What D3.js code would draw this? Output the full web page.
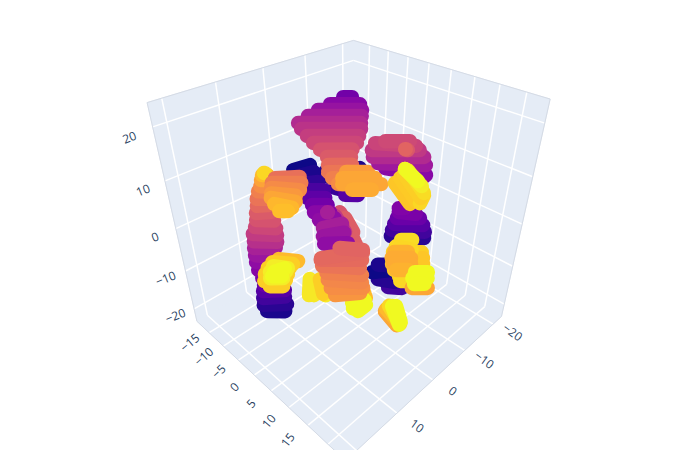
<!DOCTYPE html><html><head><meta charset="utf-8"><script src="https://cdn.jsdelivr.net/npm/d3@7"></script>
<style>html,body{margin:0;background:#fff}</style></head><body><svg id="c" width="700" height="450"></svg><script>
// Axis ticks and ranges
const xTicks=[-20,-10,0,10,20],yTicks=[-15,-10,-5,0,5,10,15,20],zTicks=[-20,-10,0,10,20];
const xLabels=[-20,-10,0,10],yLabels=[-15,-10,-5,0,5,10,15],zLabels=[-20,-10,0,10,20];
const xRange=[-23.1,22.5],yRange=[-19.5,24.1],zRange=[-23.5,24.1];
// Bands of points: start and end of each band in data units, and the colour value
const startX=[-9.0,-8.7,-8.9,-9.7,-17.5,-14.9,-12.5,-10.4,-8.3,-8.1,-8.3,-8.5,-8.8,-9.1,-8.4,-7.7,-7.7,-8.0,-10.0,-8.8,-8.2,-9.0,-19.4,-15.2,-14.5,-14.1,-14.4,-15.3,-16.7,-18.8,-18.6,-9.5,-10.0,-10.7,-11.4,-12.0,-12.2,-13.5,-14.5,-15.1,-15.1,-15.8,-15.3,-15.2,-3.6,-2.7,-2.4,-3.6,-8.5,-7.2,-6.3,-5.5,-5.0,-4.7,-4.7,-4.4,-5.7,-4.8,-4.4,-4.2,-4.8,-6.3,-5.4,-5.0,0.9,0.7,0.2,-0.1,-0.5,16.6,16.7,16.3,
15.9,15.4,15.2,15.2,15.0,14.7,14.4,14.0,13.7,13.0,12.4,12.0,11.5,11.1,10.5,9.9,9.5,9.1,8.8,2.3,2.2,2.7,3.5,5.5,5.5,5.9,5.8,6.2,6.2,6.6,6.6,5.2,6.9,7.6,8.1,6.7,9.0,9.4,9.1,12.7,12.5,11.7,11.8,11.2,11.3,11.2,11.0,11.1,11.0,10.9,8.2,11.1,11.9,12.4,12.9,13.3,13.4,13.4,16.7,17.7,18.7,19.5,20.1,19.9,18.3,19.1,19.6,18.8,19.4];
const startY=[-13.7,-13.1,-10.7,-8.5,-16.9,-18.1,-19.2,-20.0,-20.7,-19.6,-18.1,-16.5,-14.8,-13.1,-12.1,-11.4,-10.2,-8.8,-8.5,-8.4,-7.8,-5.8,2.9,-2.7,-4.0,-5.1,-5.7,-5.7,-4.3,-0.6,-0.7,4.4,4.2,4.1,4.1,4.0,3.8,1.4,1.8,6.6,2.2,2.6,2.2,2.3,9.3,7.4,6.2,6.5,7.8,7.7,7.8,8.3,8.8,9.6,10.9,11.5,8.6,8.8,9.5,10.5,14.0,13.3,13.5,14.3,12.6,12.7,12.9,13.4,14.0,-2.2,-2.9,-3.4,
-3.8,-4.0,-4.6,-5.6,-6.3,-6.8,-7.3,-7.7,-8.2,-8.3,-8.6,-9.0,-9.2,-9.6,-9.8,-9.8,-10.0,-10.1,-9.9,2.4,3.6,5.3,2.5,-5.8,-4.6,-3.7,-2.5,-1.6,-0.4,0.5,1.7,2.3,3.0,3.7,4.5,12.4,12.1,12.7,13.6,5.8,6.6,8.7,7.3,10.3,9.4,8.6,8.1,7.2,6.8,6.8,8.4,-3.6,-3.5,-3.1,-2.6,-2.2,-1.3,-0.1,3.1,2.7,2.7,2.9,3.4,4.5,3.7,3.8,4.4,4.5,4.7];
const startZ=[1.4,0.8,-1.1,-2.2,14.3,13.2,12.3,11.4,10.3,9.4,8.3,7.2,6.2,5.1,3.9,2.8,1.9,1.0,3.1,2.2,1.3,0.5,2.5,4.2,5.1,6.2,7.4,8.6,9.0,7.7,7.9,-5.9,-4.8,-3.7,-2.7,-1.6,-0.9,3.2,4.1,0.2,4.9,5.6,5.9,6.0,-12.4,-11.0,-9.8,-8.5,-4.5,-5.4,-6.2,-7.0,-7.8,-8.6,-9.4,-10.0,-5.4,-6.2,-7.0,-7.8,-10.4,-7.9,-8.7,-9.4,-13.4,-12.9,-12.3,-12.2,-12.1,-12.7,-11.6,-10.5,
-9.3,-8.3,-7.1,-5.8,-4.5,-3.4,-2.2,-1.1,0.1,1.2,2.3,3.4,4.6,5.7,6.9,7.7,8.7,9.5,9.9,4.4,3.7,1.8,4.2,10.8,10.1,9.0,8.3,7.3,6.4,5.5,4.5,5.7,3.6,2.6,1.7,-4.6,-6.2,-6.8,-7.0,-2.5,-2.8,-3.8,-2.2,-4.2,-3.1,-1.9,-0.8,0.2,1.2,1.5,3.0,12.4,11.9,11.3,10.7,10.2,9.5,8.7,2.5,2.2,1.6,0.9,0.1,-0.4,2.3,1.7,1.0,1.9,1.5];
const endX=[-14.5,-10.4,-10.8,-11.5,-18.8,-19.2,-18.9,-18.2,-17.4,-16.8,-15.8,-14.8,-13.5,-12.5,-11.9,-10.9,-10.6,-9.9,-13.1,-13.5,-13.7,-11.8,-20.1,-20.4,-21.0,-21.3,-21.1,-20.7,-20.2,-19.0,-18.7,-13.9,-14.4,-14.6,-14.6,-14.2,-13.1,-13.9,-14.9,-16.3,-15.5,-16.2,-16.3,-16.0,-5.4,-4.8,-5.2,-5.9,-10.0,-8.5,-10.1,-9.7,-9.1,-8.5,-7.7,-6.4,-7.5,-7.3,-6.8,-5.8,-6.9,-8.0,-7.4,-6.4,0.4,0.1,0.1,0.4,0.1,14.3,13.6,13.4,
13.0,13.0,14.0,13.5,13.0,12.9,11.6,11.1,10.7,10.4,10.2,9.9,9.5,9.4,9.0,8.7,8.4,8.4,8.7,2.3,2.2,2.9,3.4,3.1,3.2,3.5,3.5,4.0,4.3,4.6,4.6,5.1,4.3,4.8,5.2,6.9,7.4,7.4,7.7,13.9,13.4,12.1,12.4,8.1,7.5,7.4,7.0,6.9,6.2,5.7,5.6,8.2,8.5,9.2,10.2,10.7,11.6,12.4,14.6,15.5,16.2,16.9,17.6,18.4,16.8,17.3,18.1,17.4,18.3];
const endY=[-9.0,-10.7,-8.2,-6.6,-15.6,-13.7,-12.8,-12.2,-11.6,-11.0,-10.6,-10.2,-10.2,-9.6,-8.7,-8.3,-7.4,-6.8,-5.4,-3.8,-2.3,-3.0,3.4,3.6,2.9,2.1,1.0,0.3,-0.9,-0.3,-0.6,9.2,8.9,8.2,7.3,6.5,4.6,5.1,5.8,6.5,6.4,6.5,5.8,5.0,11.3,10.0,8.7,8.8,9.3,10.5,11.7,12.4,13.0,13.5,13.8,13.5,10.4,11.4,11.9,12.1,16.1,15.0,15.5,15.6,15.2,15.4,15.7,15.7,15.8,0.2,0.0,-0.7,
-1.1,-1.6,-3.4,-3.8,-4.3,-4.4,-4.6,-4.7,-5.1,-5.6,-6.3,-7.0,-7.4,-7.9,-8.3,-8.6,-8.9,-9.4,-9.7,3.9,5.6,7.0,4.8,-4.1,-3.0,-1.7,-0.2,0.6,1.5,2.4,3.5,2.4,5.0,6.0,7.3,13.3,12.8,13.5,14.1,6.8,7.5,9.0,8.7,13.1,13.2,12.8,12.4,11.8,11.6,11.3,11.2,-0.8,-0.1,0.3,0.4,0.9,1.0,0.9,5.4,5.2,5.2,5.5,5.8,6.0,5.5,5.6,5.8,5.5,5.8];
const endZ=[2.0,0.1,-1.8,-2.2,14.3,13.2,12.3,11.4,10.3,9.4,8.3,7.2,6.2,5.1,3.9,2.8,1.9,1.0,3.1,2.2,1.3,0.5,2.7,3.1,4.8,6.2,7.4,8.2,9.0,7.7,7.9,-6.2,-5.1,-3.9,-2.7,-1.9,-0.9,-0.1,0.4,1.5,1.1,2.0,3.2,4.1,-12.5,-11.4,-9.4,-8.5,-4.5,-5.4,-6.2,-7.0,-7.8,-8.6,-9.4,-10.0,-5.4,-6.2,-7.0,-7.8,-10.4,-7.9,-8.7,-9.4,-15.5,-15.0,-15.0,-15.0,-14.4,-12.7,-11.5,-10.3,
-9.2,-8.3,-7.1,-5.8,-4.5,-3.4,-2.2,-1.2,-0.1,1.0,2.2,3.6,4.7,5.7,6.8,7.7,8.7,9.5,9.9,3.0,1.7,0.0,1.9,11.5,10.6,9.3,8.3,7.3,6.4,5.5,4.8,5.7,4.2,3.1,1.8,-5.7,-5.3,-5.7,-6.2,-4.7,-4.6,-4.5,-4.2,-3.9,-3.1,-2.2,-1.1,0.0,1.2,2.3,2.7,12.6,11.9,11.0,10.4,9.7,9.0,8.7,2.2,2.0,1.6,0.9,0.3,-0.4,2.1,1.7,1.0,2.4,1.5];
const bandColor=[.02,.03,.08,.15,.22,.28,.32,.36,.4,.43,.47,.5,.54,.57,.62,.66,.69,.72,.77,.8,.8,.81,.25,.28,.34,.4,.45,.49,.51,.56,.6,.05,.1,.15,.2,.24,.26,.88,.89,.92,.9,.93,.97,1,.1,.04,0,.02,.93,.92,.9,.88,.88,.88,.9,.92,.83,.81,.81,.83,.8,1,1,1,.8,.85,.92,1,1,.02,.05,.1,.15,.2,.24,.27,.3,.33,.37,.42,.46,.5,.54,.57,.61,.65,.69,.73,.79,.85,.92,.55,.58,.58,.45,0,.02,.06,.12,.17,.22,.28,.3,.36,.36,.33,.3,.85,1,1,1,.96,.96,.96,.9,.75,.73,.71,.69,.65,.62,.61,.6,.64,.68,.72,.76,.8,.84,.86,.85,.9,.9,.9,.9,.9,.97,.97,.97,1,1];

const hx=1,hy=.956,hz=1.044;
const sx=d3.scaleLinear().domain(xRange).range([-hx,hx]),sy=d3.scaleLinear().domain(yRange).range([-hy,hy]),sz=d3.scaleLinear().domain(zRange).range([-hz,hz]);
const color=d3.scaleSequential(d3.interpolatePlasma).domain([0,1]);
const A=Math.PI/4,E=35.264*Math.PI/180,D0=4.33,F=543,cx=350,cy=225;
const w=[Math.cos(E)*Math.cos(A),Math.cos(E)*Math.sin(A),Math.sin(E)],r=[-Math.sin(A),Math.cos(A),0],u=[-Math.sin(E)*Math.cos(A),-Math.sin(E)*Math.sin(A),Math.cos(E)];
const dot=(a,b)=>a[0]*b[0]+a[1]*b[1]+a[2]*b[2];
function P(a,b,c){const p=[a,b,c],D=D0-dot(p,w);return [cx+F*dot(p,r)/D,cy-F*dot(p,u)/D,D];}
const svg=d3.select('#c');
const line=(p,q,col,wd)=>svg.append('line').attr('x1',p[0]).attr('y1',p[1]).attr('x2',q[0]).attr('y2',q[1]).attr('stroke',col).attr('stroke-width',wd);
const poly=a=>svg.append('polygon').attr('points',a.map(d=>d[0]+','+d[1]).join(' ')).attr('fill','#E5ECF6').attr('stroke','#E5ECF6');
poly([P(hx,-hy,hz),P(-hx,-hy,hz),P(-hx,-hy,-hz),P(hx,-hy,-hz)]);
poly([P(-hx,hy,hz),P(-hx,-hy,hz),P(-hx,-hy,-hz),P(-hx,hy,-hz)]);
poly([P(hx,-hy,-hz),P(-hx,-hy,-hz),P(-hx,hy,-hz),P(hx,hy,-hz)]);
const G='#fff',GW=1.5;
xTicks.forEach(t=>{const a=sx(t);line(P(a,-hy,hz),P(a,-hy,-hz),G,GW);line(P(a,-hy,-hz),P(a,hy,-hz),G,GW);});
yTicks.forEach(t=>{const a=sy(t);line(P(-hx,a,hz),P(-hx,a,-hz),G,GW);line(P(-hx,a,-hz),P(hx,a,-hz),G,GW);});
zTicks.forEach(t=>{const a=sz(t);line(P(hx,-hy,a),P(-hx,-hy,a),G,GW);line(P(-hx,-hy,a),P(-hx,hy,a),G,GW);});
[[P(hx,-hy,hz),P(-hx,-hy,hz)],[P(-hx,-hy,hz),P(-hx,hy,hz)],[P(hx,-hy,hz),P(hx,-hy,-hz)],[P(-hx,hy,hz),P(-hx,hy,-hz)],[P(hx,-hy,-hz),P(hx,hy,-hz)],[P(-hx,hy,-hz),P(hx,hy,-hz)]].forEach(e=>line(e[0],e[1],'#d5dbe5',1));
function lab(p,s,rot){const q=P(...p);svg.append('text').attr('transform',`translate(${q[0]},${q[1]}) rotate(${rot})`).attr('text-anchor','middle').attr('dy','0.35em').attr('font-family','Open Sans').attr('font-size',12).attr('fill','#2a3f5f').text(String(s).replace('-','\u2212'));}
xLabels.forEach(t=>lab([sx(t),hy*1.2,-hz+.035],t,36));
yLabels.forEach(t=>lab([hx*1.19,sy(t),-hz+.02],t,-40-(t+15)*.4));
zLabels.forEach(t=>lab([hx*1.13,-hy*1.13,sz(t)-.08],t,-22));
const bands=bandColor.map((c,i)=>{const a=P(sx(startX[i]),sy(startY[i]),sz(startZ[i])),b=P(sx(endX[i]),sy(endY[i]),sz(endZ[i]));return {a,b,c,depth:(a[2]+b[2])/2};}).sort((p,q)=>d3.descending(p.depth,q.depth));
svg.append('g').selectAll('line').data(bands).join('line')
 .attr('x1',d=>d.a[0]).attr('y1',d=>d.a[1]).attr('x2',d=>d.b[0]).attr('y2',d=>d.b[1])
 .attr('stroke',d=>color(d.c)).attr('stroke-width',14.4).attr('stroke-linecap','round');
</script></body></html>
